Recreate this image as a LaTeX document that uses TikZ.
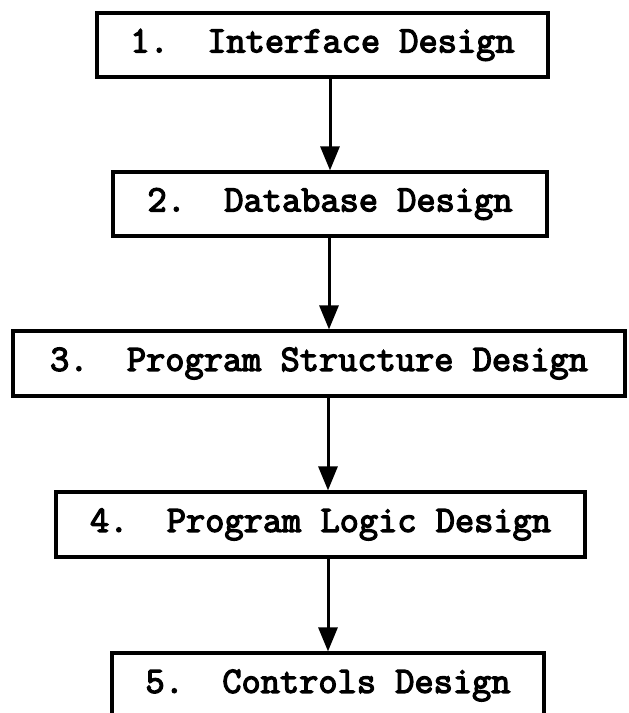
\documentclass[tikz,border=0pt]{standalone}
\usepackage{fontspec}
\newfontfamily\courfont[FakeBold=3.5]{Latin Modern Mono}
\usetikzlibrary{arrows.meta}
\begin{document}
\frenchspacing
\begin{tikzpicture}[x=1pt,y=-1pt,
  stepbox/.style={draw=black, line width=3.2pt, rectangle, inner sep=0pt,
    font=\fontsize{37.3}{40}\selectfont\courfont},
  arr/.style={line width=3pt, -{Triangle[length=24pt,width=19pt]}}]
\useasboundingbox[fill=white] (0,0) rectangle (629,713);
\node[stepbox, minimum width=451pt, minimum height=64pt] (b1) at (322.5,45) {1.~~Interface Design};
\node[stepbox, minimum width=434pt, minimum height=64pt] (b2) at (330,204) {2.~~Database Design};
\node[stepbox, minimum width=612pt, minimum height=65pt] (b3) at (319,363.5) {3.~~Program Structure Design};
\node[stepbox, minimum width=529pt, minimum height=65pt] (b4) at (320.5,524.5) {4.~~Program Logic Design};
\node[stepbox, minimum width=432pt, minimum height=65pt] (b5) at (328,685.5) {5.~~Controls Design};
\coordinate (a1) at (330,0);
\coordinate (a2) at (329,0);
\coordinate (a3) at (328,0);
\coordinate (a4) at (328,0);
\draw[arr] (b1.south -| a1) -- (b2.north -| a1);
\draw[arr] (b2.south -| a2) -- (b3.north -| a2);
\draw[arr] (b3.south -| a3) -- (b4.north -| a3);
\draw[arr] (b4.south -| a4) -- (b5.north -| a4);
\end{tikzpicture}
\end{document}
